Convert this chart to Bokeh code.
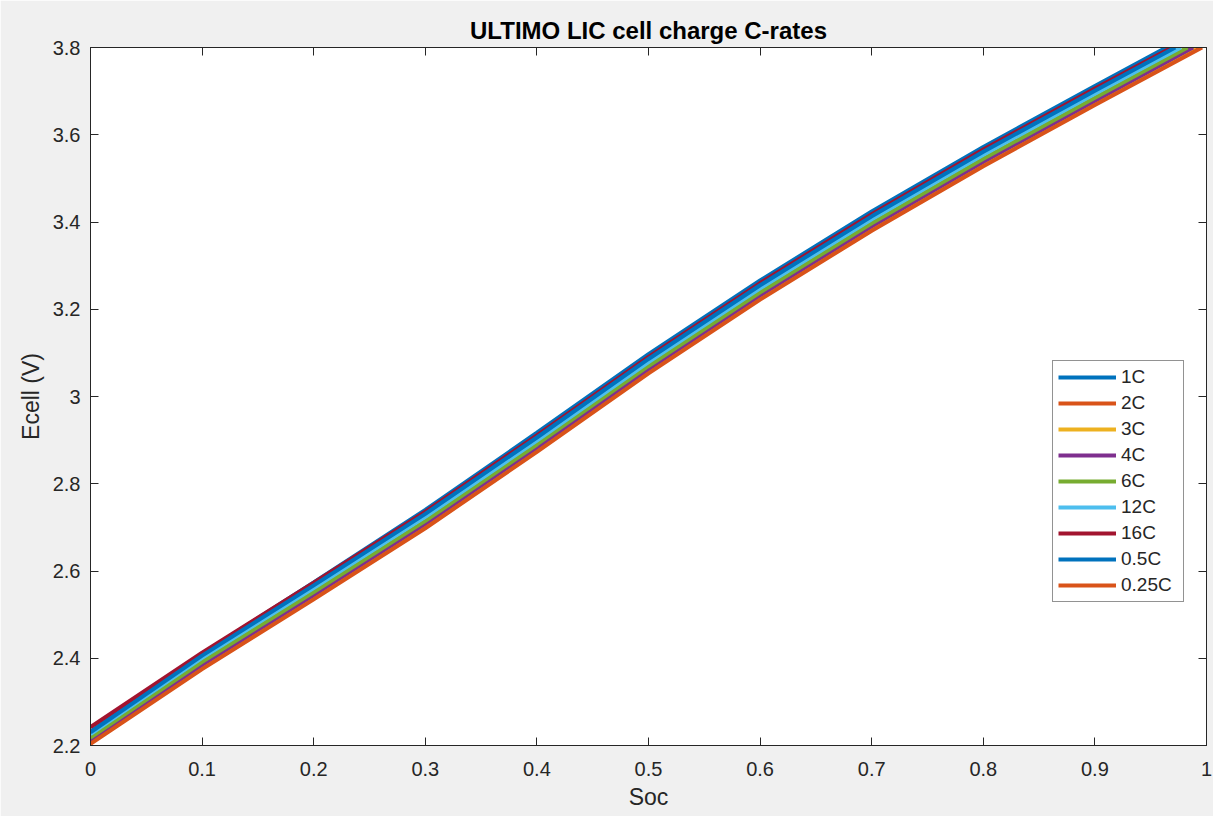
from bokeh.plotting import figure
from bokeh.models import LinearAxis, FixedTicker, Range1d, Legend, LegendItem
from bokeh.embed import file_html
from bokeh.resources import INLINE

# ---- data ----
soc_grid = [0.0, 0.1, 0.2, 0.3, 0.4, 0.5, 0.6, 0.7, 0.8, 0.9]

labels = ["1C", "2C", "3C", "4C", "6C", "12C", "16C", "0.5C", "0.25C"]
colors = ["#0072BD", "#D95319", "#EDB120", "#7E2F8E", "#77AC30",
          "#4DBEEE", "#A2142F", "#0072BD", "#D95319"]

e_1C    = [2.232, 2.410, 2.574, 2.740, 2.917, 3.097, 3.266, 3.424, 3.572, 3.712, 3.800]
e_2C    = [2.206, 2.378, 2.538, 2.701, 2.876, 3.056, 3.225, 3.383, 3.531, 3.671, 3.800]
e_3C    = [2.209, 2.382, 2.542, 2.705, 2.880, 3.060, 3.229, 3.387, 3.535, 3.675, 3.800]
e_4C    = [2.212, 2.385, 2.545, 2.708, 2.883, 3.063, 3.232, 3.390, 3.538, 3.678, 3.800]
e_6C    = [2.218, 2.392, 2.552, 2.715, 2.890, 3.070, 3.239, 3.397, 3.545, 3.685, 3.800]
e_12C   = [2.226, 2.401, 2.561, 2.724, 2.899, 3.079, 3.248, 3.406, 3.554, 3.694, 3.800]
e_16C   = [2.242, 2.413, 2.573, 2.736, 2.911, 3.091, 3.260, 3.418, 3.566, 3.706, 3.800]
e_05C   = [2.230, 2.406, 2.567, 2.731, 2.906, 3.086, 3.255, 3.413, 3.561, 3.701, 3.800]
e_025C  = [2.204, 2.375, 2.535, 2.698, 2.873, 3.053, 3.222, 3.380, 3.528, 3.668, 3.800]

# SoC at which each series reaches 3.8 V (end of charge)
soc_end = [0.964, 0.993, 0.990, 0.988, 0.983, 0.977, 0.969, 0.972, 0.996]

series = [e_1C, e_2C, e_3C, e_4C, e_6C, e_12C, e_16C, e_05C, e_025C]

x_ticks = [0.0, 0.1, 0.2, 0.3, 0.4, 0.5, 0.6, 0.7, 0.8, 0.9, 1.0]
y_ticks = [2.2, 2.4, 2.6, 2.8, 3.0, 3.2, 3.4, 3.6, 3.8]

FONT = "Liberation Sans"
TXT = "#262626"

p = figure(width=1213, height=816, output_backend="svg", toolbar_location=None,
           x_range=Range1d(0, 1), y_range=Range1d(2.2, 3.8),
           title="ULTIMO LIC cell charge C-rates",
           min_border_left=90, min_border_right=7, min_border_top=47, min_border_bottom=71)

p.background_fill_color = "white"
p.border_fill_color = "#f0f0f0"
p.outline_line_color = TXT
p.outline_line_width = 1
p.grid.visible = False

p.title.align = "center"
p.title.text_font = FONT
p.title.text_font_size = "24px"
p.title.text_font_style = "bold"
p.title.text_color = "#000000"
p.title.standoff = 7

renderers = []
for lab, col, ys, se in zip(labels, colors, series, soc_end):
    xs = soc_grid + [se]
    r = p.line(xs, ys, line_color=col, line_width=4)
    renderers.append((lab, r))

def style_axis(ax):
    ax.axis_line_color = TXT
    ax.major_tick_line_color = TXT
    ax.major_tick_in = 8
    ax.major_tick_out = 0
    ax.minor_tick_line_color = None
    ax.major_label_text_font = FONT
    ax.major_label_text_color = TXT
    ax.major_label_text_font_size = "20px"
    ax.axis_label_text_font = FONT
    ax.axis_label_text_color = TXT
    ax.axis_label_text_font_size = "23px"
    ax.axis_label_text_font_style = "normal"

xax = p.xaxis[0]
xax.ticker = FixedTicker(ticks=x_ticks)
xax.major_label_overrides = {0: "0", 1: "1"}
xax.axis_label = "Soc"
style_axis(xax)
xax.major_label_standoff = 16
xax.axis_label_standoff = 5

yax = p.yaxis[0]
yax.ticker = FixedTicker(ticks=y_ticks)
yax.major_label_overrides = {3: "3"}
yax.axis_label = "Ecell (V)"
style_axis(yax)
yax.major_label_standoff = 10
yax.axis_label_standoff = 6

top = LinearAxis(ticker=FixedTicker(ticks=x_ticks),
                 major_label_overrides={t: "" for t in x_ticks})
style_axis(top)
p.add_layout(top, "above")
right = LinearAxis(ticker=FixedTicker(ticks=y_ticks),
                   major_label_overrides={t: "" for t in y_ticks})
style_axis(right)
p.add_layout(right, "right")

legend = Legend(items=[LegendItem(label=l, renderers=[r]) for l, r in renderers],
                location=(962, 143))
legend.label_text_font = FONT
legend.label_text_font_size = "19px"
legend.label_text_color = TXT
legend.glyph_width = 58
legend.glyph_height = 18
legend.label_height = 18
legend.label_width = 57
legend.label_standoff = 5
legend.spacing = 4
legend.padding = 5
legend.margin = 0
legend.border_line_color = TXT
legend.border_line_width = 1
legend.background_fill_color = "white"
legend.background_fill_alpha = 1
p.add_layout(legend, "center")

open("out.html", "w").write(file_html(p, INLINE))
